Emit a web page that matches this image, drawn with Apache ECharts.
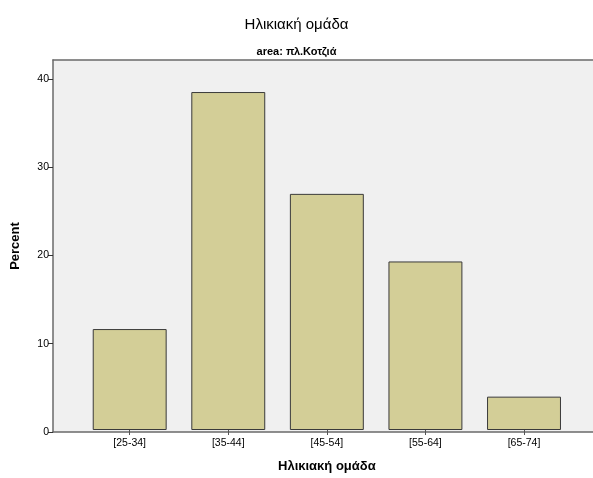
<!DOCTYPE html>
<html><head><meta charset="utf-8">
<script src="https://cdn.jsdelivr.net/npm/echarts@6/dist/echarts.min.js"></script>
<style>html,body{margin:0;padding:0;background:#fff}#c{width:593px;height:478px}</style>
</head><body><div id="c"></div>
<script>
const categories = ['[25-34]', '[35-44]', '[45-54]', '[55-64]', '[65-74]'];
const percentValues = [11.5, 38.5, 26.9, 19.2, 3.8];
const yTicks = [0, 10, 20, 30, 40];
const titleText = 'Ηλικιακή ομάδα';
const subtitleText = 'area: πλ.Κοτζιά';
const xName = 'Ηλικιακή ομάδα';
const yName = 'Percent';

const chart = echarts.init(document.getElementById('c'), null, {renderer: 'canvas'});
const F = 'Liberation Sans, Arial, sans-serif';
const yMax = 42.15;
const frameLine = {show: true, onZero: false, lineStyle: {color: '#6a6a6a', width: 1.5}};
chart.setOption({
  animation: false,
  title: [
    {text: titleText, left: 'center', top: 12, textStyle: {fontFamily: F, fontSize: 15, fontWeight: 'normal', color: '#000'}},
    {text: subtitleText, left: 'center', top: 41, textStyle: {fontFamily: F, fontSize: 11, fontWeight: 'bold', color: '#000'}}
  ],
  grid: [
    {left: 53, right: 0, top: 60, bottom: 46, show: true, backgroundColor: '#f0f0f0', borderWidth: 0},
    {left: 80.4, right: 19.7, top: 60, bottom: 46}
  ],
  xAxis: [
    {gridIndex: 0, type: 'value', min: 0, max: 1, position: 'bottom',
     axisLine: frameLine, axisTick: {show: false}, axisLabel: {show: false}, splitLine: {show: false}},
    {gridIndex: 0, type: 'value', min: 0, max: 1, position: 'top',
     axisLine: frameLine, axisTick: {show: false}, axisLabel: {show: false}, splitLine: {show: false}},
    {gridIndex: 1, type: 'category', data: categories,
     name: xName, nameLocation: 'middle', nameGap: 30,
     nameTextStyle: {fontFamily: F, fontSize: 13, fontWeight: 'bold', color: '#000'},
     axisLine: {show: false},
     axisTick: {show: true, alignWithLabel: true, length: 5, lineStyle: {color: '#555'}},
     axisLabel: {fontFamily: F, fontSize: 10.5, color: '#000', margin: 8}}
  ],
  yAxis: [
    {gridIndex: 0, type: 'value', min: 0, max: yMax, interval: 10,
     name: yName, nameLocation: 'middle', nameGap: 31,
     nameTextStyle: {fontFamily: F, fontSize: 13, fontWeight: 'bold', color: '#000'},
     axisLine: frameLine,
     axisTick: {show: true, length: 5, customValues: yTicks, lineStyle: {color: '#333'}},
     axisLabel: {fontFamily: F, fontSize: 10.5, color: '#000', margin: 4, customValues: yTicks},
     splitLine: {show: false}},
    {gridIndex: 1, type: 'value', min: 0, max: yMax, show: false}
  ],
  series: [{
    type: 'bar', xAxisIndex: 2, yAxisIndex: 1, data: percentValues,
    barCategoryGap: '25%',
    itemStyle: {color: '#d3ce97', borderColor: '#3a3a3a', borderWidth: 1}
  }]
});
</script></body></html>
